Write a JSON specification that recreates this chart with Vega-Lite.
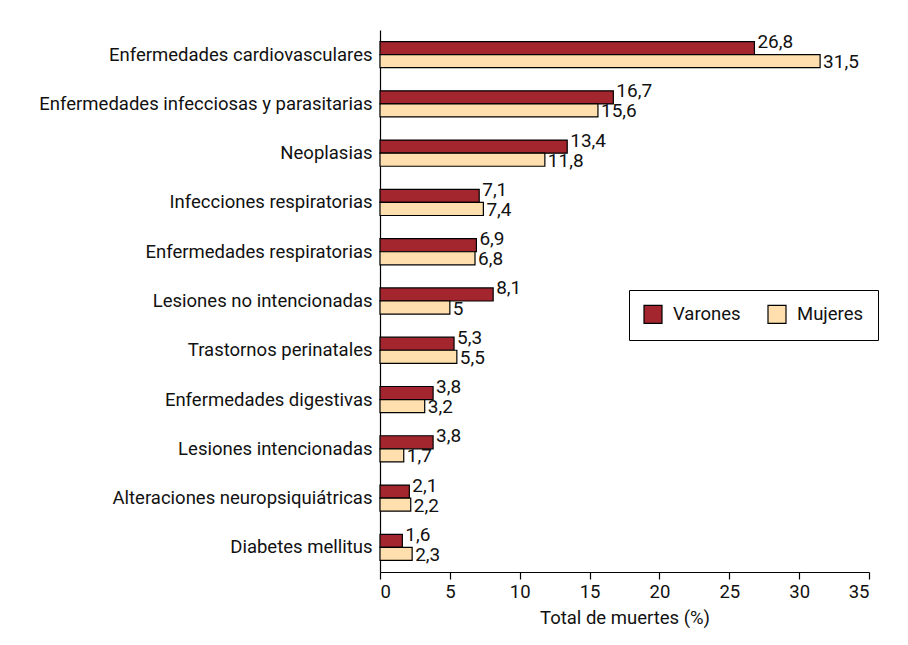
{
  "$schema": "https://vega.github.io/schema/vega-lite/v6.json",
  "width": 489,
  "height": 542,
  "autosize": {"type": "none"},
  "padding": {"left": 380, "top": 30, "right": 39, "bottom": 73},
  "background": "white",
  "config": {
    "font": "Roboto",
    "view": {"stroke": null},
    "locale": {"number": {"decimal": ",", "thousands": ".", "grouping": [3], "currency": ["", " €"]}}
  },
  "data": {
    "values": [
      {"causa": "Enfermedades cardiovasculares", "sexo": "Varones", "valor": 26.8},
      {"causa": "Enfermedades cardiovasculares", "sexo": "Mujeres", "valor": 31.5},
      {"causa": "Enfermedades infecciosas y parasitarias", "sexo": "Varones", "valor": 16.7},
      {"causa": "Enfermedades infecciosas y parasitarias", "sexo": "Mujeres", "valor": 15.6},
      {"causa": "Neoplasias", "sexo": "Varones", "valor": 13.4},
      {"causa": "Neoplasias", "sexo": "Mujeres", "valor": 11.8},
      {"causa": "Infecciones respiratorias", "sexo": "Varones", "valor": 7.1},
      {"causa": "Infecciones respiratorias", "sexo": "Mujeres", "valor": 7.4},
      {"causa": "Enfermedades respiratorias", "sexo": "Varones", "valor": 6.9},
      {"causa": "Enfermedades respiratorias", "sexo": "Mujeres", "valor": 6.8},
      {"causa": "Lesiones no intencionadas", "sexo": "Varones", "valor": 8.1},
      {"causa": "Lesiones no intencionadas", "sexo": "Mujeres", "valor": 5},
      {"causa": "Trastornos perinatales", "sexo": "Varones", "valor": 5.3},
      {"causa": "Trastornos perinatales", "sexo": "Mujeres", "valor": 5.5},
      {"causa": "Enfermedades digestivas", "sexo": "Varones", "valor": 3.8},
      {"causa": "Enfermedades digestivas", "sexo": "Mujeres", "valor": 3.2},
      {"causa": "Lesiones intencionadas", "sexo": "Varones", "valor": 3.8},
      {"causa": "Lesiones intencionadas", "sexo": "Mujeres", "valor": 1.7},
      {"causa": "Alteraciones neuropsiquiátricas", "sexo": "Varones", "valor": 2.1},
      {"causa": "Alteraciones neuropsiquiátricas", "sexo": "Mujeres", "valor": 2.2},
      {"causa": "Diabetes mellitus", "sexo": "Varones", "valor": 1.6},
      {"causa": "Diabetes mellitus", "sexo": "Mujeres", "valor": 2.3}
    ]
  },
  "encoding": {
    "y": {
      "field": "causa", "type": "nominal", "sort": null,
      "scale": {"paddingInner": 0.47, "paddingOuter": 0.235},
      "axis": {"title": null, "domainColor": "black", "domainWidth": 1.2, "ticks": false,
               "labelFont": "Roboto", "labelFontSize": 18.5, "labelColor": "#111", "labelPadding": 8, "labelLimit": 400}
    },
    "x": {
      "field": "valor", "type": "quantitative",
      "scale": {"domain": [0, 35], "nice": false},
      "axis": {"title": "Total de muertes (%)", "values": [0,5,10,15,20,25,30,35], "grid": false,
               "domainColor": "black", "domainWidth": 1.2, "tickColor": "black", "tickSize": 7, "tickWidth": 1.2,
               "labelFont": "Roboto", "labelFontSize": 18.5, "labelColor": "#111", "labelPadding": 3,
               "titleFont": "Roboto", "titleFontSize": 18.5, "titleFontWeight": "normal", "titleColor": "#111", "titlePadding": 8, "format": "d"}
    },
    "yOffset": {"field": "sexo", "type": "nominal", "sort": ["Varones", "Mujeres"]}
  },
  "layer": [
    {
      "mark": {"type": "bar", "stroke": "black", "strokeWidth": 1.2},
      "encoding": {
        "color": {
          "field": "sexo", "type": "nominal", "sort": ["Varones", "Mujeres"],
          "scale": {"domain": ["Varones", "Mujeres"], "range": ["#A3262F", "#FFDFAE"]},
          "legend": {"title": null, "orient": "none", "legendX": 249, "legendY": 260, "direction": "horizontal",
                     "strokeColor": "black", "padding": 14, "symbolType": "square", "symbolSize": 324,
                     "symbolStrokeColor": "black", "symbolStrokeWidth": 1.2, "labelFont": "Roboto", "labelFontSize": 18.5, "labelColor": "#111",
                     "columnPadding": 24, "labelOffset": 10, "fillColor": "white"}
        }
      }
    },
    {
      "transform": [{"filter": "datum.sexo === 'Varones'"}],
      "mark": {"type": "text", "align": "left", "baseline": "alphabetic", "dx": 3, "dy": 0, "font": "Roboto", "fontSize": 19, "color": "#111"},
      "encoding": {"text": {"field": "valor", "type": "quantitative", "format": ".2~f"}}
    },
    {
      "transform": [{"filter": "datum.sexo === 'Mujeres'"}],
      "mark": {"type": "text", "align": "left", "baseline": "middle", "dx": 3, "dy": 1, "font": "Roboto", "fontSize": 19, "color": "#111"},
      "encoding": {"text": {"field": "valor", "type": "quantitative", "format": ".2~f"}}
    }
  ]
}
